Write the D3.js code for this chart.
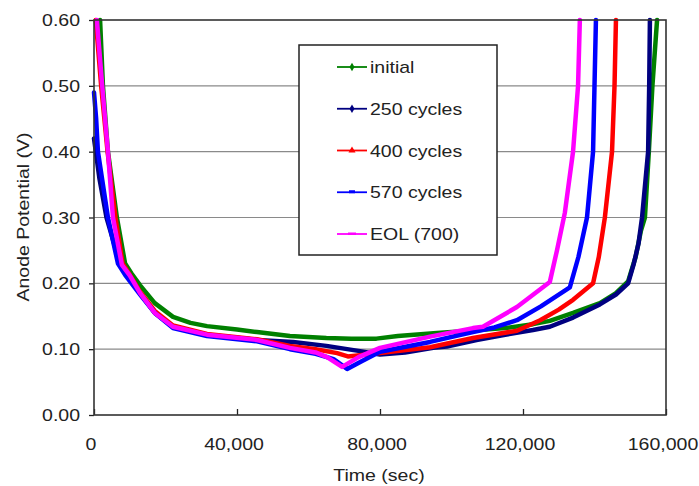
<!DOCTYPE html>
<html lang="en">
<meta charset="utf-8" />
<style>
    body { margin: 0; background: #fff; }
    text { font-family: "Liberation Sans", Arial, sans-serif; fill: #222; }
    .grid line { stroke: #8a8a8a; stroke-width: 1.2px; }
    path.curve { fill: none; stroke-width: 4.5px; stroke-linejoin: round; stroke-linecap: round; }
</style>
<body>
<svg width="699" height="486"></svg>
<script src="https://d3js.org/d3.v7.min.js"></script>
<script>
    // time (sec), anode potential (V)
    var initialData = [[1700,0.60],[2500,0.50],[3900,0.40],[6400,0.30],[8700,0.23],[10500,0.215],[12900,0.197],[17000,0.17],[22100,0.149],[27000,0.14],[31600,0.135],[40000,0.13],[45600,0.126],[54800,0.12],[65000,0.117],[72000,0.116],[79000,0.116],[85000,0.12],[95000,0.124],[105000,0.128],[115000,0.132],[122800,0.138],[127500,0.143],[134000,0.155],[141500,0.17],[146000,0.185],[149400,0.203],[151500,0.24],[153000,0.28],[154100,0.30],[155200,0.40],[156200,0.50],[157500,0.60]]
    var c250Data = [[0,0.42],[1500,0.36],[3500,0.30],[6700,0.24],[8700,0.215],[12900,0.185],[17000,0.155],[22100,0.134],[31600,0.122],[45600,0.114],[55700,0.111],[65000,0.105],[74400,0.097],[80000,0.092],[87000,0.095],[94900,0.102],[98700,0.104],[107000,0.114],[115000,0.122],[122800,0.129],[127500,0.134],[134000,0.148],[141500,0.168],[146000,0.183],[149400,0.2],[151000,0.23],[152300,0.26],[153300,0.30],[155000,0.40],[155300,0.50],[155500,0.60]]
    var c400Data = [[500,0.60],[2000,0.50],[3800,0.40],[6000,0.30],[8000,0.23],[10000,0.213],[12900,0.187],[17000,0.158],[22100,0.136],[31600,0.123],[45600,0.115],[54800,0.105],[62000,0.1],[68000,0.094],[71000,0.089],[75000,0.091],[80000,0.094],[94000,0.103],[106000,0.117],[118300,0.128],[124800,0.144],[130000,0.16],[134000,0.175],[139600,0.2],[141200,0.24],[142900,0.30],[144900,0.40],[145600,0.50],[146000,0.60]]
    var c570Data = [[0,0.49],[600,0.45],[1100,0.40],[2500,0.35],[3900,0.30],[6700,0.23],[8700,0.213],[12900,0.183],[17000,0.155],[22100,0.132],[31600,0.12],[45600,0.112],[54800,0.1],[62000,0.093],[67000,0.085],[70800,0.07],[75000,0.082],[80000,0.096],[94000,0.111],[106000,0.126],[112000,0.133],[118300,0.144],[125000,0.165],[133100,0.194],[135500,0.24],[137900,0.30],[139600,0.40],[140000,0.50],[140400,0.60]]
    var eolData = [[800,0.60],[2300,0.50],[3900,0.40],[5300,0.30],[7800,0.228],[10000,0.212],[12900,0.185],[17000,0.155],[22100,0.134],[31600,0.122],[45600,0.114],[54800,0.102],[62000,0.095],[65200,0.088],[69400,0.073],[74000,0.088],[80000,0.102],[94000,0.119],[106000,0.132],[108800,0.134],[118300,0.164],[127500,0.202],[129500,0.25],[131700,0.307],[134000,0.40],[135400,0.50],[135900,0.60]]

    var seriesNames = ["initial", "250 cycles", "400 cycles", "570 cycles", "EOL (700)"]
    var seriesColors = ["#008000", "#000080", "#ff0000", "#0000ff", "#ff00ff"]
    var seriesMarkers = ["diamond", "diamond", "triangle", "rect", "dash"]
    var seriesData = [initialData, c250Data, c400Data, c570Data, eolData]

    var xTicks = [0, 40000, 80000, 120000, 160000]
    var yTicks = [0, 0.1, 0.2, 0.3, 0.4, 0.5, 0.6]

    var svg = d3.select("svg")
    var plotL = 94, plotR = 666, plotT = 20, plotB = 415
    var wide = 1.22   // the text in the picture is wider than Arial

    var x = d3.scaleLinear().domain([0, 160000]).range([plotL, plotR])
    var y = d3.scaleLinear().domain([0, 0.6]).range([plotB, plotT])

    // gridlines
    svg.append("g").attr("class", "grid")
        .selectAll("line")
        .data(yTicks.filter(d => d > 0 && d < 0.6))
        .enter().append("line")
        .attr("x1", plotL).attr("x2", plotR)
        .attr("y1", d => y(d)).attr("y2", d => y(d))

    // y axis
    var yAxis = d3.axisLeft(y).tickValues(yTicks).tickFormat(d3.format(".2f")).tickSize(5)
    var gy = svg.append("g").attr("transform", "translate(" + plotL + ",0)").call(yAxis)
    gy.select(".domain").remove()
    gy.selectAll("line").attr("stroke", "#222").attr("stroke-width", 1.3)
    gy.selectAll("text").style("font-size", "16px").attr("fill", "#333")
        .attr("x", -14 / wide).attr("dy", "0.35em")
        .attr("transform", "scale(" + wide + ",1)")

    // x axis, ticks pointing inward
    var xAxis = d3.axisBottom(x).tickValues(xTicks).tickFormat(d3.format(",")).tickSize(-6).tickPadding(24)
    var gx = svg.append("g").attr("transform", "translate(0," + plotB + ")").call(xAxis)
    gx.select(".domain").remove()
    gx.selectAll("line").attr("stroke", "#222").attr("stroke-width", 1.3)
    gx.selectAll("text").style("font-size", "16px").attr("fill", "#333")
        .attr("transform", "translate(-3.5,0) scale(" + wide + ",1)")

    // curves
    var line = d3.line().x(d => x(d[0])).y(d => y(d[1]))
    seriesData.forEach(function(data, i) {
        svg.append("path")
            .attr("class", "curve")
            .attr("d", line(data))
            .attr("stroke", seriesColors[i])
    })

    // frame
    svg.append("rect")
        .attr("x", plotL).attr("y", plotT)
        .attr("width", plotR - plotL).attr("height", plotB - plotT)
        .attr("fill", "none").attr("stroke", "#333").attr("stroke-width", 1.6)

    // legend
    var legend = svg.append("g")
    legend.append("rect")
        .attr("x", 299).attr("y", 45).attr("width", 198).attr("height", 210)
        .attr("fill", "#fff").attr("stroke", "#222").attr("stroke-width", 1.5)

    var rowY = d3.scaleLinear().domain([0, 4]).range([67, 234])
    seriesNames.forEach(function(name, i) {
        var g = legend.append("g").attr("transform", "translate(0," + rowY(i) + ")")
        g.append("line").attr("x1", 337).attr("x2", 367).attr("y1", 0).attr("y2", 0)
            .attr("stroke", seriesColors[i]).attr("stroke-width", 1.8)
        var m = seriesMarkers[i]
        var sym
        if (m == "diamond") sym = d3.symbol().type(d3.symbolDiamond).size(22)
        else if (m == "triangle") sym = d3.symbol().type(d3.symbolTriangle).size(22)
        if (sym) {
            g.append("path").attr("d", sym()).attr("transform", "translate(352,0)").attr("fill", seriesColors[i])
        } else if (m == "rect") {
            g.append("rect").attr("x", 349).attr("y", -2).attr("width", 6).attr("height", 3).attr("fill", seriesColors[i])
        } else {
            g.append("rect").attr("x", 348).attr("y", -1.5).attr("width", 8).attr("height", 2.5).attr("fill", seriesColors[i])
        }
        g.append("text")
            .attr("transform", "translate(370,6) scale(" + wide + ",1)")
            .style("font-size", "16px").attr("fill", "#222").text(name)
    })

    // axis titles
    svg.append("text")
        .attr("transform", "translate(" + ((plotL + plotR) / 2 - 1) + ",481) scale(" + wide + ",1)")
        .attr("text-anchor", "middle").style("font-size", "16px")
        .text("Time (sec)")
    svg.append("text")
        .attr("transform", "translate(29,217) rotate(-90) scale(" + wide + ",1)")
        .attr("text-anchor", "middle").style("font-size", "16px")
        .text("Anode Potential (V)")
</script>
</body>
</html>
